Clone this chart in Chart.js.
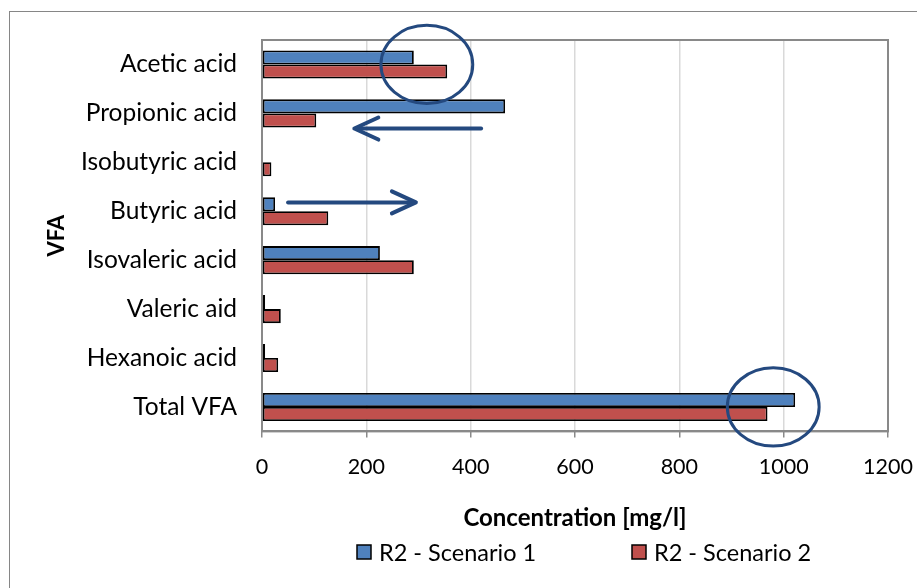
<!DOCTYPE html>
<html>
<head>
<meta charset="utf-8">
<script src="https://cdn.jsdelivr.net/npm/chart.js@4.4.0/dist/chart.umd.min.js"></script>
<style>
  html, body { margin: 0; padding: 0; background: #fff; }
  #wrap { position: relative; width: 917px; height: 588px; overflow: hidden; }
  #frame { position: absolute; left: 9px; top: 11px; width: 1000px; height: 700px; border: 1.5px solid #868686; }
  canvas { position: absolute; left: 0; top: 0; }
</style>
</head>
<body>
<div id="wrap">
  <div id="frame"></div>
  <canvas id="chart" width="917" height="588"></canvas>
</div>
<script>
const acids = ["Acetic acid", "Propionic acid", "Isobutyric acid", "Butyric acid",
               "Isovaleric acid", "Valeric aid", "Hexanoic acid", "Total VFA"];
const scenario1 = [291, 466, 0, 25, 226, 6, 6, 1022];
const scenario2 = [355, 104, 18, 127, 291, 36, 31, 969];
const xTicks = [0, 200, 400, 600, 800, 1000, 1200];

// hand-drawn marks on the original figure (value units / category index)
const circleX = [316, 980];
const circleCat = [0, 7];
const circleRx = [88, 88];
const circleRy = [0.8, 0.8];
const arrowFrom = [420, 50];
const arrowTo = [177, 295];
const arrowCat = [1.31, 2.82];

const FONT = "Lato";
const markColor = "#24497f";

// legend drawn by hand: it sits right of centre in the original
const legendX = [357, 632];
const legendY = 552;

const frameAndMarks = {
  id: "frameAndMarks",
  afterDraw(chart) {
    const { ctx, chartArea: a, scales: { x, y } } = chart;
    ctx.save();
    // plot area outline
    ctx.strokeStyle = "#898989";
    ctx.lineWidth = 2;
    ctx.strokeRect(a.left, a.top, a.right - a.left, a.bottom - a.top);

    // legend
    ctx.font = `23.5px ${FONT}`;
    ctx.textBaseline = "middle";
    chart.data.datasets.forEach((ds, i) => {
      const lx = legendX[i];
      ctx.fillStyle = ds.backgroundColor;
      ctx.fillRect(lx, legendY - 7, 14, 14);
      ctx.strokeStyle = "#000";
      ctx.lineWidth = 1.5;
      ctx.strokeRect(lx, legendY - 7, 14, 14);
      ctx.fillStyle = "#000";
      ctx.fillText(ds.label, lx + 22, legendY + 1);
    });

    ctx.strokeStyle = markColor;
    ctx.lineWidth = 3;
    circleX.forEach((cx, i) => {
      const px = x.getPixelForValue(cx);
      const py = y.getPixelForValue(circleCat[i]);
      const rx = x.getPixelForValue(cx + circleRx[i]) - px;
      const ry = y.getPixelForValue(circleCat[i] + circleRy[i]) - py;
      ctx.beginPath();
      ctx.ellipse(px, py, rx, Math.abs(ry), 0, 0, Math.PI * 2);
      ctx.stroke();
    });

    ctx.lineWidth = 4;
    ctx.lineCap = "round";
    ctx.lineJoin = "round";
    arrowFrom.forEach((fx, i) => {
      const x0 = x.getPixelForValue(fx);
      const x1 = x.getPixelForValue(arrowTo[i]);
      const py = y.getPixelForValue(arrowCat[i]);
      const dir = x1 > x0 ? 1 : -1;
      ctx.beginPath();
      ctx.moveTo(x0, py);
      ctx.lineTo(x1 - dir * 2, py);
      ctx.stroke();
      ctx.beginPath();
      ctx.moveTo(x1 - dir * 24, py - 11);
      ctx.lineTo(x1, py);
      ctx.lineTo(x1 - dir * 24, py + 11);
      ctx.stroke();
    });
    ctx.restore();
  }
};

new Chart(document.getElementById("chart"), {
  type: "bar",
  data: {
    labels: acids,
    datasets: [{
      label: "R2 - Scenario 1",
      data: scenario1,
      backgroundColor: "#4f81bd",
      borderColor: "#000",
      borderWidth: 1.8,
      borderSkipped: false
    }, {
      label: "R2 - Scenario 2",
      data: scenario2,
      backgroundColor: "#c0504d",
      borderColor: "#000",
      borderWidth: 1.8,
      borderSkipped: false
    }]
  },
  options: {
    indexAxis: "y",
    responsive: false,
    animation: false,
    categoryPercentage: 0.574,
    barPercentage: 1,
    layout: { padding: { left: 20, top: 40, right: 29, bottom: 53 } },
    plugins: {
      tooltip: { enabled: false },
      legend: { display: false }
    },
    scales: {
      x: {
        min: 0,
        max: 1200,
        afterBuildTicks(scale) { scale.ticks = xTicks.map(v => ({ value: v })); },
        afterFit(scale) { scale.paddingLeft = 0; scale.paddingRight = 0; },
        grid: {
          color: "#d9d9d9",
          lineWidth: 1.5,
          tickLength: 6,
          tickColor: "#898989"
        },
        border: { color: "#898989", width: 2 },
        ticks: {
          font: { family: FONT, size: 21.5 },
          color: "#000",
          padding: 17,
          maxRotation: 0,
          callback: v => String(v)
        },
        title: {
          display: true,
          text: "Concentration [mg/l]",
          font: { family: FONT, size: 24, weight: "bold" },
          color: "#000",
          padding: { top: 7, bottom: 2 }
        }
      },
      y: {
        afterFit(scale) { scale.width = 262 - 20; },
        grid: { display: false, drawTicks: false },
        border: { color: "#898989", width: 2 },
        ticks: { font: { family: FONT, size: 24.5 }, color: "#000", padding: 25 },
        title: {
          display: true,
          text: "VFA",
          font: { family: FONT, size: 22, weight: "bold" },
          color: "#000",
          padding: { top: 24, bottom: 0 }
        }
      }
    }
  },
  plugins: [frameAndMarks]
});
</script>
</body>
</html>
